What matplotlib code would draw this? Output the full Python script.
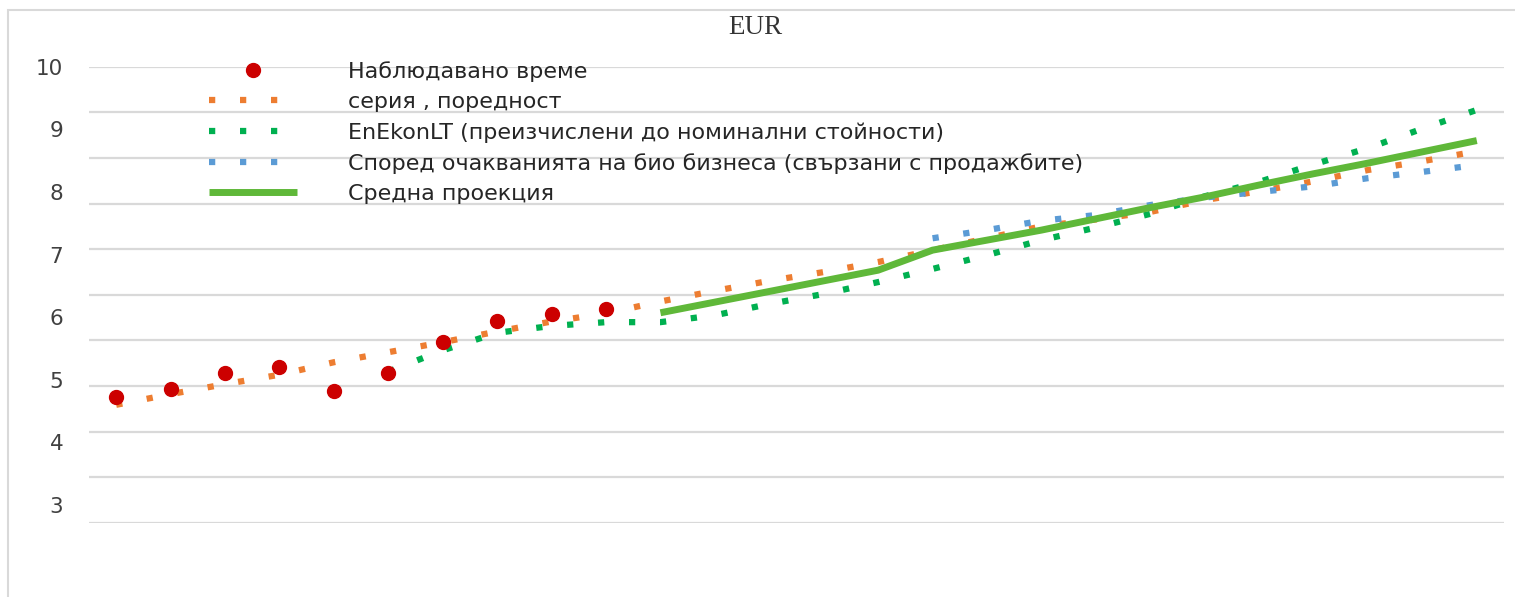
import numpy as np
import matplotlib
matplotlib.use("Agg")
import matplotlib.pyplot as plt
from matplotlib.patches import Rectangle

nan = np.nan

# 26 периода по хоризонталата (без надписи)
periods = np.arange(26)

observed = [4.73, 4.85, 5.10, 5.20, 4.82, 5.10, 5.60, 5.94, 6.05, 6.13]

series_trend = [4.60, 4.77, 4.93, 5.08, 5.28, 5.44, 5.60, 5.77, 5.93, 6.06,
                6.25, 6.42, 6.58, 6.72, 6.88, 7.07, 7.26, 7.45, 7.56, 7.68,
                7.87, 8.01, 8.17, 8.35, 8.49, 8.65]

enekon = [nan] * 5 + [5.13, 5.47, 5.75, 5.86, 5.92, 5.92, 6.03, 6.21, 6.37, 6.56,
                      6.77, 6.99, 7.23, 7.43, 7.65, 7.93, 8.16, 8.44, 8.70, 9.01, 9.31]

business = [nan] * 15 + [7.26, 7.39, 7.54, 7.63, 7.79, 7.91, 8.00, 8.09, 8.22, 8.32, 8.43]

mean_proj = [nan] * 10 + [6.07, 6.24, 6.41, 6.58, 6.75, 7.07, 7.23, 7.39, 7.57, 7.75,
                          7.92, 8.11, 8.29, 8.46, 8.64, 8.82]

y_ticks = [3, 4, 5, 6, 7, 8, 9, 10]

labels = ['Наблюдавано време',
          'серия , поредност',
          'EnEkonLT (преизчислени до номинални стойности)',
          'Според очакванията на био бизнеса (свързани с продажбите)',
          'Средна проекция']

W, H = 1515, 597
fig = plt.figure(figsize=(W / 100, H / 100), dpi=100)
fig.patch.set_facecolor('white')

# рамка на диаграмата
fig.add_artist(Rectangle((8 / W, -0.05), 1.1, (H - 10) / H + 0.05, fill=False,
                         ec='#d9d9d9', lw=1.5, transform=fig.transFigure))

ax = fig.add_axes([89 / W, (H - 522.7) / H, 1415 / W, 456 / H])
grid_step = 45.6 / 62.61
ax.set_xlim(-0.5, 25.5)
ax.set_ylim(10 - 10 * grid_step, 10)

for k in range(11):
    ax.axhline(10 - k * grid_step, color='#d9d9d9', lw=1.6, zorder=0)

lw_dot = 4.5
dots = (1, 3.96)
h_orange, = ax.plot(periods, series_trend, color='#ed7d31', lw=lw_dot,
                    dashes=dots, dash_capstyle='butt', zorder=2)
h_blue, = ax.plot(periods, business, color='#5b9bd5', lw=lw_dot,
                  dashes=dots, dash_capstyle='butt', zorder=3)
h_green, = ax.plot(periods, enekon, color='#00b050', lw=lw_dot,
                   dashes=dots, dash_capstyle='butt', zorder=4)
h_mean, = ax.plot(periods, mean_proj, color='#5fb839', lw=5, zorder=5,
                  solid_capstyle='butt')
h_obs, = ax.plot(periods[:len(observed)], observed, 'o', color='#cc0000',
                 ms=10, mec='#cc0000', zorder=6, linestyle='none')

for s in ax.spines.values():
    s.set_visible(False)
ax.set_xticks([])
ax.set_yticks(y_ticks)
ax.set_yticklabels([str(t) for t in y_ticks], fontsize=15.5, color='#404040',
                   family='DejaVu Sans')
ax.tick_params(axis='y', length=0, pad=18.5)

fig.text(755 / W, 1 - 28 / H, 'EUR', ha='center', va='center',
         family='Liberation Serif', fontsize=19.5, color='#333333')

leg = fig.legend([h_obs, h_orange, h_green, h_blue, h_mean], labels,
                 loc='upper left', bbox_to_anchor=(209 / W, 1 - 61 / H),
                 bbox_transform=fig.transFigure, frameon=False,
                 borderpad=0, borderaxespad=0, handlelength=3.96,
                 handletextpad=2.30, labelspacing=0.46, numpoints=1,
                 prop={'family': 'DejaVu Sans', 'size': 16})
for t in leg.get_texts():
    t.set_color('#262626')

fig.savefig('out.png', dpi=100, facecolor='white')
